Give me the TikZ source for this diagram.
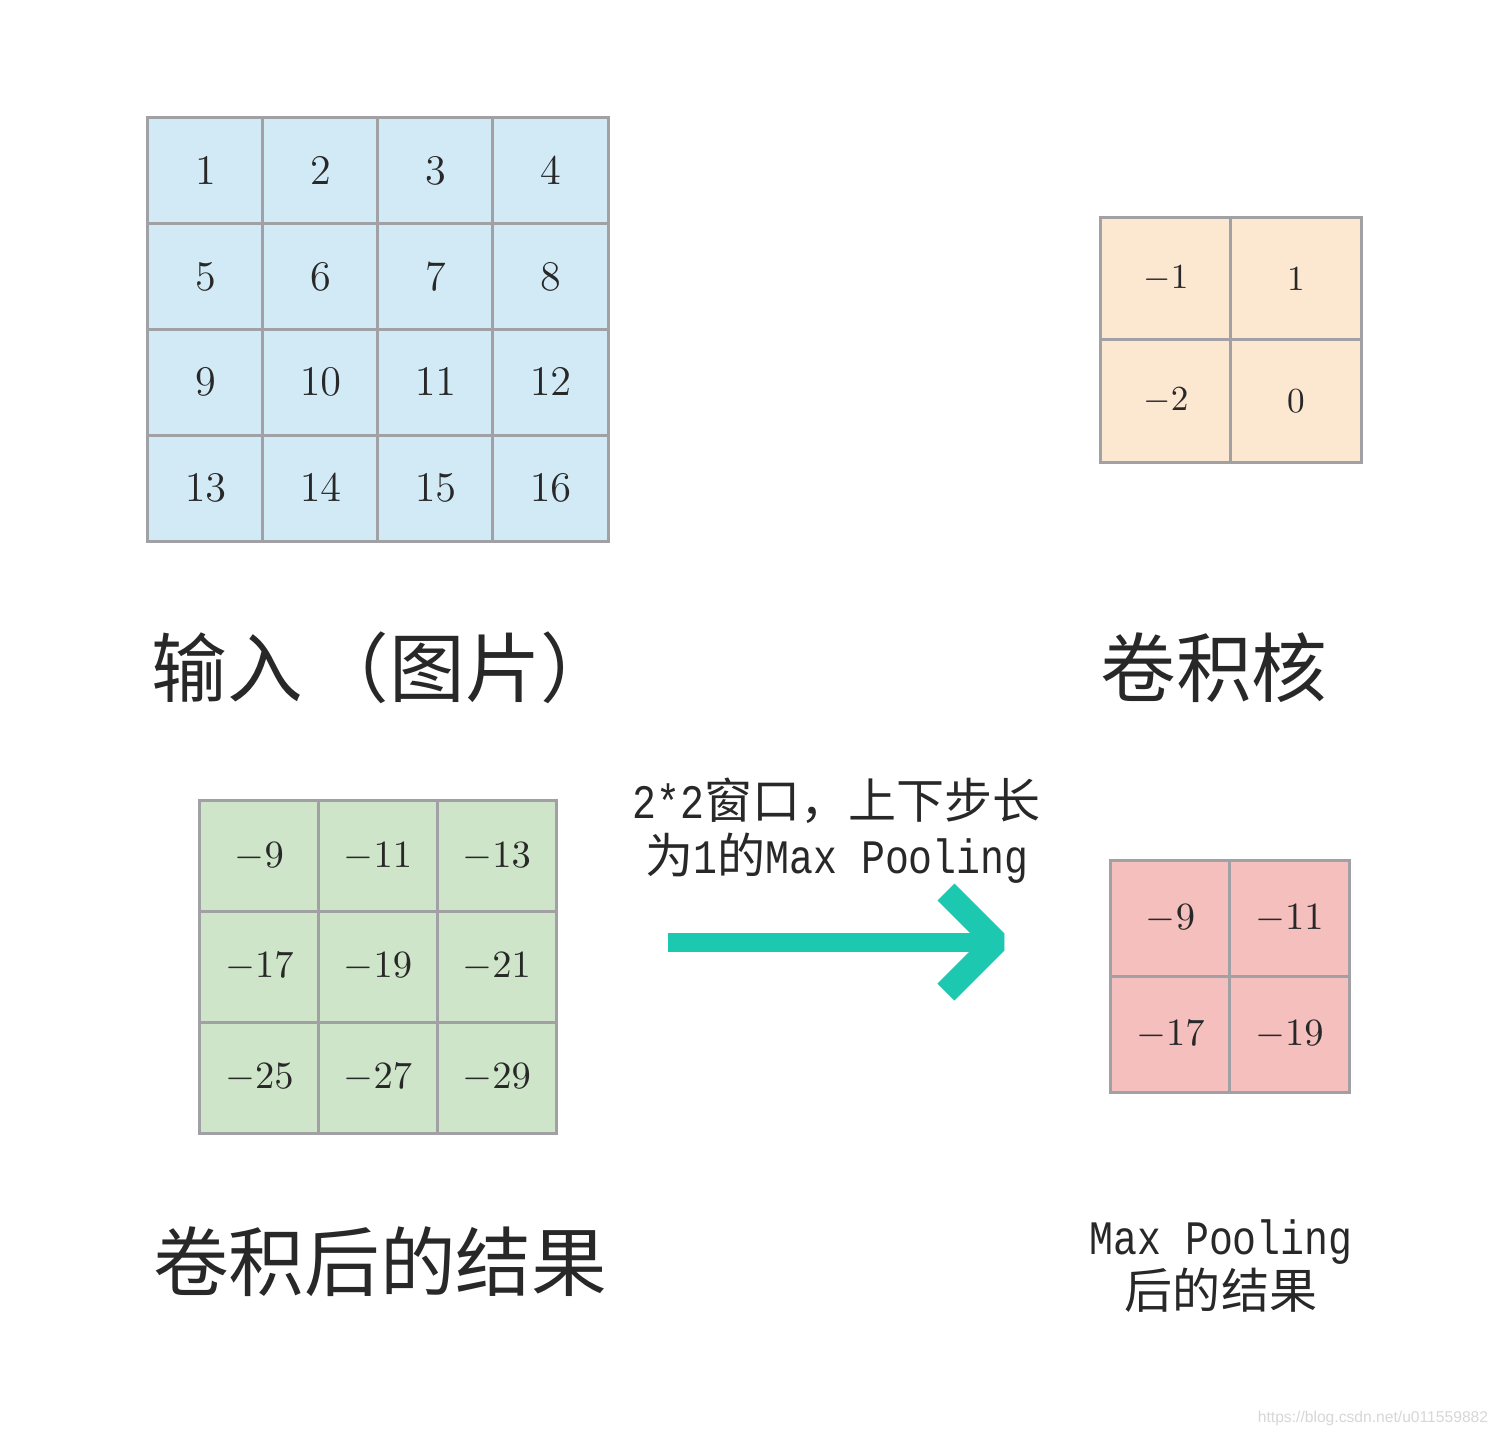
\documentclass[tikz,border=0pt]{standalone}
\usepackage{fontspec}
\newfontfamily\cjk{Noto Sans CJK SC}
\newfontfamily\lmono[FakeStretch=0.83]{Liberation Mono}
\newfontfamily\wmfont{Liberation Sans}
\definecolor{cblue}{RGB}{209,234,245}
\definecolor{corange}{RGB}{252,231,208}
\definecolor{cgreen}{RGB}{207,229,201}
\definecolor{cpink}{RGB}{244,191,189}
\definecolor{cborder}{RGB}{160,160,165}
\definecolor{ctext}{RGB}{40,40,40}
\definecolor{cteal}{RGB}{28,201,176}
\definecolor{cshadow}{RGB}{214,222,222}
\definecolor{cwm}{RGB}{215,215,215}
\tikzset{
  cell/.style={draw=cborder, line width=0.85pt, inner sep=0pt, text=ctext},
  biglabel/.style={text=ctext, inner sep=0pt, font=\cjk\fontsize{21.5}{24}\selectfont},
  midlabel/.style={text=ctext, inner sep=0pt, align=center},
}
\begin{document}
\begin{tikzpicture}[x=0.01cm, y=-0.01cm]
\fill[white] (0,0) rectangle (1500,1436);
\useasboundingbox (0,0) rectangle (1500,1436);
% input 4x4
\foreach \v [count=\i from 0] in {1,2,...,16}{
  \pgfmathtruncatemacro\r{\i/4}
  \pgfmathtruncatemacro\c{mod(\i,4)}
  \node[cell, fill=cblue, minimum width=1.15cm, minimum height=1.0575cm,
        font=\fontsize{12.2}{14}\selectfont]
    (in-\r-\c) at ({148+115*(\c+0.5)}, {118+105.75*(\r+0.5)}) {$\v$};
}
% kernel 2x2
\foreach \v [count=\i from 0] in {-1,1,-2,0}{
  \pgfmathtruncatemacro\r{\i/2}
  \pgfmathtruncatemacro\c{mod(\i,2)}
  \node[cell, fill=corange, minimum width=1.30cm, minimum height=1.22cm,
        font=\fontsize{10}{12}\selectfont]
    (k-\r-\c) at ({1101+130*(\c+0.5)}, {218+122*(\r+0.5)}) {$\v$};
}
% conv result 3x3
\foreach \v [count=\i from 0] in {-9,-11,-13,-17,-19,-21,-25,-27,-29}{
  \pgfmathtruncatemacro\r{\i/3}
  \pgfmathtruncatemacro\c{mod(\i,3)}
  \node[cell, fill=cgreen, minimum width=1.1867cm, minimum height=1.1067cm,
        font=\fontsize{11}{13}\selectfont]
    (cv-\r-\c) at ({200+118.67*(\c+0.5)}, {801+110.67*(\r+0.5)}) {$\v$};
}
% pooling result 2x2
\foreach \v [count=\i from 0] in {-9,-11,-17,-19}{
  \pgfmathtruncatemacro\r{\i/2}
  \pgfmathtruncatemacro\c{mod(\i,2)}
  \node[cell, fill=cpink, minimum width=1.19cm, minimum height=1.155cm,
        font=\fontsize{11}{13}\selectfont]
    (mp-\r-\c) at ({1111+119*(\c+0.5)}, {861+115.5*(\r+0.5)}) {$\v$};
}
% labels
\node[biglabel] (lin) at (384,668) {输入\hspace{0.15em}（图片）};
\node[biglabel] (lk) at (1214,668) {卷积核};
\node[biglabel] (lcv) at (380,1262) {卷积后的结果};
\node[midlabel, font=\fontsize{13.66}{15.6}\selectfont] (lmid) at (837,831)
  {{\lmono 2*2}{\cjk 窗口，上下步长}\\{\cjk 为}{\lmono 1}{\cjk 的}{\lmono Max Pooling}};
\node[midlabel, font=\fontsize{13.66}{15.1}\selectfont] (lmp) at (1221,1266)
  {{\lmono Max Pooling}\\{\cjk 后的结果}};
% arrow
\coordinate (a0) at (668,942.5);
\coordinate (a1) at (990,942.5);
\coordinate (h1) at (946,892);
\coordinate (h2) at (996,942);
\coordinate (h3) at (946,992);
\begin{scope}[shift={(4,5)}]
  \draw[cshadow, line width=5.4pt] (a0) -- (a1);
  \draw[cshadow, line width=6.8pt, line join=bevel] (h1) -- (h2) -- (h3);
\end{scope}
\draw[cteal, line width=5.4pt] (a0) -- (a1);
\draw[cteal, line width=6.8pt, line join=bevel] (h1) -- (h2) -- (h3);
% watermark
\node[text=cwm, inner sep=0pt, font=\wmfont\fontsize{4.45}{5}\selectfont] (wm) at (1373,1418) {https://blog.csdn.net/u011559882};
\end{tikzpicture}
\end{document}
